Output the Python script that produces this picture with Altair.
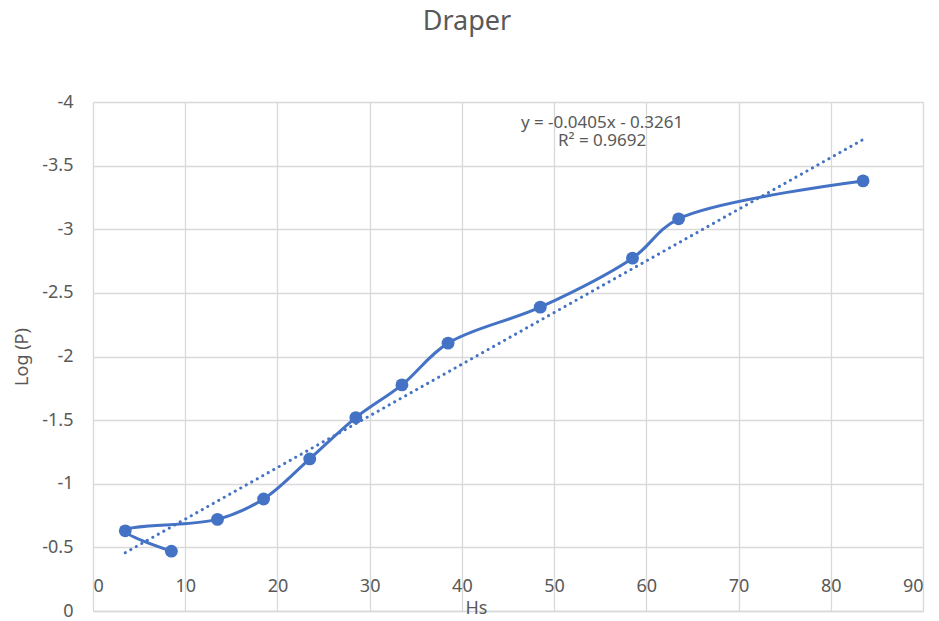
import altair as alt
import pandas as pd

# Data in plotting order (Excel series order)
hs = [8.5, 3.5, 13.5, 18.5, 23.5, 28.5, 33.5, 38.5, 48.5, 58.5, 63.5, 83.5]
log_p = [-0.47, -0.63, -0.72, -0.88, -1.195, -1.52, -1.777, -2.105, -2.388, -2.773, -3.082, -3.38]

x_ticks = [0, 10, 20, 30, 40, 50, 60, 70, 80, 90]
y_ticks = [-4, -3.5, -3, -2.5, -2, -1.5, -1, -0.5, 0]

eq_text = ["y = -0.0405x - 0.3261", "R² = 0.9692"]
eq_x = [55.2, 55.2]
eq_y = [-3.835, -3.69]

BLUE = "#4472C4"
GRID = "#d9d9d9"
TXT = "#595959"
FONT = "Noto Sans"

df = pd.DataFrame({"hs": hs, "logp": log_p, "idx": list(range(len(hs)))})
eq_df = pd.DataFrame({"t": eq_text, "x": eq_x, "y": eq_y})

x_enc = alt.X(
    "hs:Q",
    scale=alt.Scale(domain=[0, 90], nice=False, zero=False),
    axis=alt.Axis(
        values=x_ticks, grid=True, gridColor=GRID, gridWidth=1.3,
        domain=True, domainColor=GRID, domainWidth=1.3, ticks=False,
        labelPadding=-25, labelBaseline="middle", labelFontSize=18,
        labelColor=TXT, labelFont=FONT,
        title="Hs", titleX=383, titleY=-3, titleBaseline="middle",
        titleAlign="center", titleFontWeight="normal", titleFontSize=18,
        titleColor=TXT, titleFont=FONT,
    ),
)
y_enc = alt.Y(
    "logp:Q",
    scale=alt.Scale(domain=[0, -4], nice=False, zero=False),
    axis=alt.Axis(
        values=y_ticks, labelExpr="'' + datum.value", grid=True,
        gridColor=GRID, gridWidth=1.3, domain=False, ticks=False,
        labelPadding=20, labelFontSize=18, labelColor=TXT, labelFont=FONT,
        title="Log (P)", titleX=-71, titleY=254.5, titleAngle=270,
        titleBaseline="middle", titleAlign="center",
        titleFontWeight="normal", titleFontSize=18, titleColor=TXT,
        titleFont=FONT,
    ),
)

base = alt.Chart(df)

line = base.mark_line(interpolate="catmull-rom", color=BLUE, strokeWidth=3).encode(
    x=x_enc, y=y_enc, order="idx:Q"
)
pts = base.mark_circle(size=165, color=BLUE, opacity=1).encode(x="hs:Q", y="logp:Q")
trend = base.transform_regression("hs", "logp", method="linear").mark_line(
    color=BLUE, strokeWidth=3, strokeDash=[0.1, 6.2], strokeCap="round"
).encode(x="hs:Q", y="logp:Q")

eq = alt.Chart(eq_df).mark_text(
    fontSize=17, font=FONT, color=TXT, align="center", baseline="middle"
).encode(x="x:Q", y="y:Q", text="t:N")

chart = (
    alt.layer(line, trend, pts, eq)
    .properties(
        width=830,
        height=509,
        padding={"left": 85, "top": 94, "right": 8, "bottom": 10},
        autosize=alt.AutoSizeParams(type="none"),
        title=alt.TitleParams(
            "Draper", fontSize=27, font=FONT, color=TXT, fontWeight="normal",
            anchor="middle", frame="group", dx=-41, offset=36,
            baseline="alphabetic",
        ),
    )
    .configure_view(stroke=None)
    .configure(background="white")
)

chart.save("out.html", embed_options={"renderer": "svg", "actions": False})
